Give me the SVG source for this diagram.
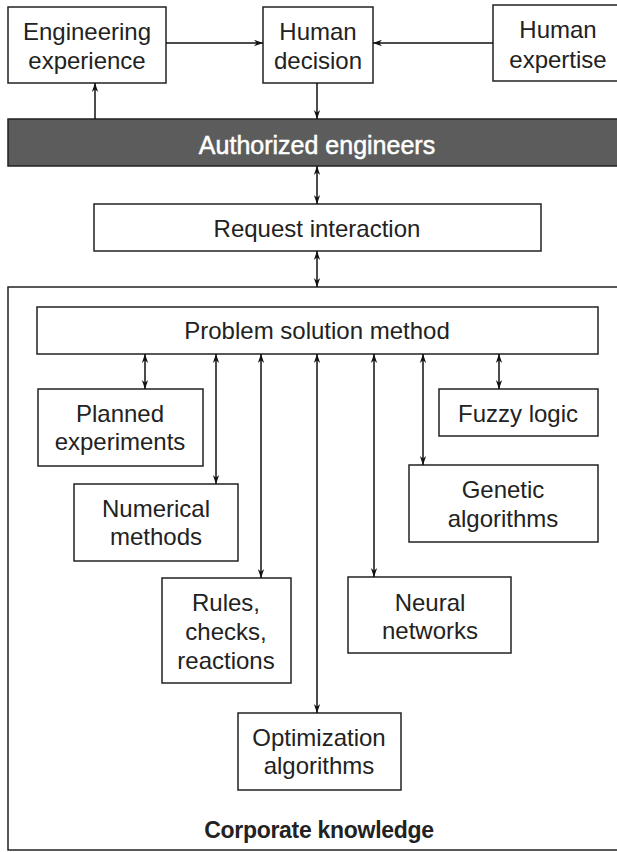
<svg xmlns="http://www.w3.org/2000/svg" width="617" height="852" viewBox="0 0 617 852">
<style>
.box{fill:#fff;stroke:#222;stroke-width:1.5}
.t{font-family:"Liberation Sans",Arial,sans-serif;font-size:24px;fill:#222;text-anchor:middle}
.c{fill:none;stroke:#111;stroke-width:1.5}
</style>
<defs>
<marker id="ah" viewBox="0 0 10 10" refX="10" refY="5" markerWidth="9" markerHeight="9" markerUnits="userSpaceOnUse" orient="auto-start-reverse">
<path d="M0,1.5 L10,5 L0,8.5 L3,5 Z" fill="#111"/>
</marker>
</defs>
<rect width="617" height="852" fill="#fff"/>
<g id="corporate">
<rect x="8" y="287" width="620" height="563" fill="#fff" stroke="#222" stroke-width="1.5"/>
<text class="t" x="319" y="838" style="font-weight:bold;font-size:23px;letter-spacing:-0.3px">Corporate knowledge</text>
</g>
<g id="eng-exp"><rect class="box" x="8" y="7" width="158" height="76"/><text class="t" x="87" y="40">Engineering</text><text class="t" x="87" y="69">experience</text></g>
<g id="human-decision"><rect class="box" x="263" y="7" width="110" height="76"/><text class="t" x="318" y="40">Human</text><text class="t" x="318" y="69">decision</text></g>
<g id="human-expertise"><rect class="box" x="493" y="5" width="130" height="76"/><text class="t" x="558" y="38">Human</text><text class="t" x="558" y="68">expertise</text></g>
<g id="authorized"><rect x="8" y="119" width="620" height="47" fill="#5c5c5c" stroke="#222" stroke-width="1.5"/><text class="t" x="317" y="154" style="fill:#fff;font-size:25px;stroke:#fff;stroke-width:0.5">Authorized engineers</text></g>
<g id="request"><rect class="box" x="94" y="204" width="447" height="47"/><text class="t" x="317" y="237">Request interaction</text></g>
<g id="problem"><rect class="box" x="37" y="307" width="561" height="47"/><text class="t" x="317" y="339">Problem solution method</text></g>
<g id="planned"><rect class="box" x="38" y="389" width="165" height="77"/><text class="t" x="120" y="422">Planned</text><text class="t" x="120" y="450">experiments</text></g>
<g id="fuzzy"><rect class="box" x="439" y="389" width="159" height="47"/><text class="t" x="518" y="422">Fuzzy logic</text></g>
<g id="numerical"><rect class="box" x="74" y="484" width="164" height="77"/><text class="t" x="156" y="517">Numerical</text><text class="t" x="156" y="545">methods</text></g>
<g id="genetic"><rect class="box" x="409" y="465" width="189" height="77"/><text class="t" x="503" y="498">Genetic</text><text class="t" x="503" y="527">algorithms</text></g>
<g id="rules"><rect class="box" x="162" y="578" width="129" height="105"/><text class="t" x="226" y="611">Rules,</text><text class="t" x="226" y="640">checks,</text><text class="t" x="226" y="669">reactions</text></g>
<g id="neural"><rect class="box" x="348" y="577" width="163" height="76"/><text class="t" x="430" y="611">Neural</text><text class="t" x="430" y="639">networks</text></g>
<g id="optimization"><rect class="box" x="238" y="713" width="163" height="77"/><text class="t" x="319" y="746">Optimization</text><text class="t" x="319" y="774">algorithms</text></g>
<g id="connectors">
<line class="c" x1="166" y1="43" x2="263" y2="43" marker-end="url(#ah)"/>
<line class="c" x1="493" y1="43" x2="373" y2="43" marker-end="url(#ah)"/>
<line class="c" x1="95" y1="119" x2="95" y2="83" marker-end="url(#ah)"/>
<line class="c" x1="317" y1="83" x2="317" y2="119" marker-end="url(#ah)"/>
<line class="c" x1="317" y1="166" x2="317" y2="204" marker-start="url(#ah)" marker-end="url(#ah)"/>
<line class="c" x1="317" y1="251" x2="317" y2="287" marker-start="url(#ah)" marker-end="url(#ah)"/>
<line class="c" x1="145" y1="354" x2="145" y2="389" marker-start="url(#ah)" marker-end="url(#ah)"/>
<line class="c" x1="216" y1="354" x2="216" y2="484" marker-start="url(#ah)" marker-end="url(#ah)"/>
<line class="c" x1="261" y1="354" x2="261" y2="578" marker-start="url(#ah)" marker-end="url(#ah)"/>
<line class="c" x1="317" y1="354" x2="317" y2="713" marker-start="url(#ah)" marker-end="url(#ah)"/>
<line class="c" x1="374" y1="354" x2="374" y2="577" marker-start="url(#ah)" marker-end="url(#ah)"/>
<line class="c" x1="423" y1="354" x2="423" y2="465" marker-start="url(#ah)" marker-end="url(#ah)"/>
<line class="c" x1="499" y1="354" x2="499" y2="389" marker-start="url(#ah)" marker-end="url(#ah)"/>
</g>
</svg>
